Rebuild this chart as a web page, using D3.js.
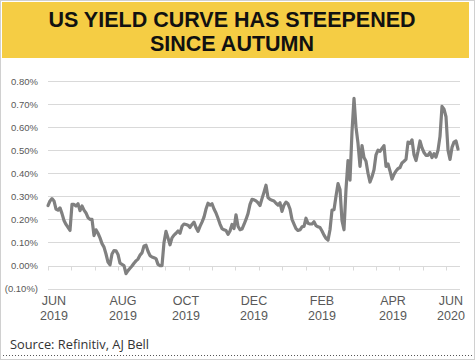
<!DOCTYPE html>
<html><head><meta charset="utf-8">
<script src="https://cdn.jsdelivr.net/npm/d3@7"></script>
<style>body{margin:0;background:#fff}svg{display:block}</style>
</head><body>
<svg id="c" width="475" height="360"></svg>
<script>
const titleLines = ["US YIELD CURVE HAS STEEPENED", "SINCE AUTUMN"];
const yTicks = [-0.1, 0, 0.1, 0.2, 0.3, 0.4, 0.5, 0.6, 0.7, 0.8];
const monthLabels = ["JUN", "AUG", "OCT", "DEC", "FEB", "APR", "JUN"];
const yearLabels = ["2019", "2019", "2019", "2019", "2019", "2019", "2020"];
const labelIndex = [3, 37.5, 69, 103, 137, 172.5, 201.5];
const sourceText = "Source: Refinitiv, AJ Bell";
// US yield curve spread (%), roughly every 1.3 trading days, Jun 2019 - Jun 2020
const spread = [
0.26,0.28,0.29,0.28,0.245,0.24,0.25,0.225,0.195,0.178,
0.165,0.152,0.265,0.265,0.258,0.268,0.238,0.258,0.24,0.228,
0.208,0.2,0.2,0.13,0.155,0.14,0.12,0.095,0.08,0.05,
0.015,0.003,0.05,0.065,0.064,0.048,0.01,0.005,0.0,-0.035,
-0.022,-0.012,-0.002,0.01,0.02,0.028,0.045,0.055,0.085,0.088,
0.062,0.043,0.037,0.034,0.03,0.005,0.0,0.0,0.1,0.148,
0.12,0.09,0.12,0.132,0.14,0.15,0.14,0.17,0.18,0.178,
0.175,0.165,0.178,0.188,0.165,0.148,0.17,0.188,0.21,0.245,
0.27,0.262,0.268,0.245,0.228,0.205,0.18,0.16,0.155,0.152,
0.135,0.15,0.178,0.16,0.22,0.17,0.155,0.158,0.178,0.2,
0.225,0.265,0.287,0.285,0.28,0.272,0.26,0.29,0.318,0.348,
0.295,0.287,0.283,0.28,0.27,0.262,0.272,0.235,0.262,0.275,
0.268,0.245,0.2,0.18,0.16,0.152,0.155,0.168,0.17,0.205,
0.183,0.18,0.18,0.19,0.173,0.168,0.165,0.15,0.132,0.118,
0.11,0.155,0.24,0.242,0.3,0.355,0.33,0.195,0.155,0.33,
0.455,0.37,0.58,0.725,0.6,0.53,0.43,0.52,0.468,0.452,
0.4,0.362,0.385,0.415,0.48,0.5,0.495,0.508,0.52,0.43,
0.44,0.41,0.375,0.395,0.41,0.42,0.425,0.445,0.452,0.46,
0.535,0.53,0.545,0.48,0.455,0.495,0.54,0.51,0.49,0.478,
0.478,0.49,0.468,0.485,0.47,0.5,0.56,0.69,0.678,0.645,
0.5,0.46,0.512,0.535,0.54,0.505
];

const svg = d3.select("#c");
const W = 475, H = 360;
const plot = {left: 48, right: 460, top: 81, bottom: 288.6};

// outer border
svg.append("rect").attr("x", 0.5).attr("y", 0.5).attr("width", W - 1).attr("height", H - 1)
  .attr("fill", "none").attr("stroke", "#d0d0d0");

// title banner
svg.append("rect").attr("x", 2).attr("y", 2).attr("width", 467).attr("height", 56)
  .attr("fill", "#F5CD44");
svg.selectAll("text.title").data(titleLines).join("text").attr("class", "title")
  .attr("x", 232).attr("y", (d, i) => 26.5 + i * 24.5)
  .attr("text-anchor", "middle")
  .attr("font-family", "'Liberation Sans', Arial, sans-serif").attr("font-weight", 700)
  .attr("font-size", 21.5).attr("fill", "#111").text(d => d);

const x = d3.scaleLinear().domain([0, spread.length - 1]).range([plot.left, 458]);
const y = d3.scaleLinear().domain([-0.1, 0.8]).range([plot.bottom, plot.top]);

// gridlines
svg.append("g").selectAll("line").data(yTicks).join("line")
  .attr("x1", plot.left).attr("x2", plot.right)
  .attr("y1", d => Math.round(y(d)) + 0.5).attr("y2", d => Math.round(y(d)) + 0.5)
  .attr("stroke", "#d9d9d9").attr("stroke-width", 1);

// y labels
const fmt = v => v < 0 ? "(" + Math.abs(v).toFixed(2) + "%)" : v.toFixed(2) + "%";
svg.append("g").selectAll("text").data(yTicks).join("text")
  .attr("x", 38).attr("y", d => y(d) + 3.5).attr("text-anchor", "end")
  .attr("font-family", "'Liberation Sans', Arial, sans-serif").attr("font-size", 9.5)
  .attr("fill", "#595959").text(fmt);

// tick marks on the zero line
const tickStep = (spread.length - 1) / 17.5;
svg.append("g").selectAll("line").data(d3.range(0, spread.length, tickStep)).join("line")
  .attr("x1", d => Math.round(x(d)) + 0.5).attr("x2", d => Math.round(x(d)) + 0.5)
  .attr("y1", Math.round(y(0)) + 0.5).attr("y2", Math.round(y(0)) + 4.5)
  .attr("stroke", "#d9d9d9");

// x labels
const xl = svg.append("g").attr("font-family", "'Liberation Sans', Arial, sans-serif")
  .attr("font-size", 12.5).attr("fill", "#595959").attr("text-anchor", "middle");
xl.selectAll("text.m").data(monthLabels).join("text").attr("class", "m")
  .attr("x", (d, i) => x(labelIndex[i])).attr("y", 305).text(d => d);
xl.selectAll("text.yr").data(yearLabels).join("text").attr("class", "yr")
  .attr("x", (d, i) => x(labelIndex[i])).attr("y", 320).text(d => d);

// line
const line = d3.line().x((d, i) => x(i)).y(d => y(d));
svg.append("path").datum(spread).attr("d", line)
  .attr("fill", "none").attr("stroke", "#808080").attr("stroke-width", 3.2)
  .attr("stroke-linejoin", "round").attr("stroke-linecap", "round");

// source
svg.append("text").attr("x", 10).attr("y", 349)
  .attr("font-family", "'Open Sans', sans-serif").attr("font-size", 12.8)
  .attr("fill", "#333").text(sourceText);
svg.append("line").attr("x1", 3).attr("x2", 472).attr("y1", 355.5).attr("y2", 355.5)
  .attr("stroke", "#555").attr("stroke-width", 1).attr("stroke-dasharray", "1,2");
</script>
</body></html>
